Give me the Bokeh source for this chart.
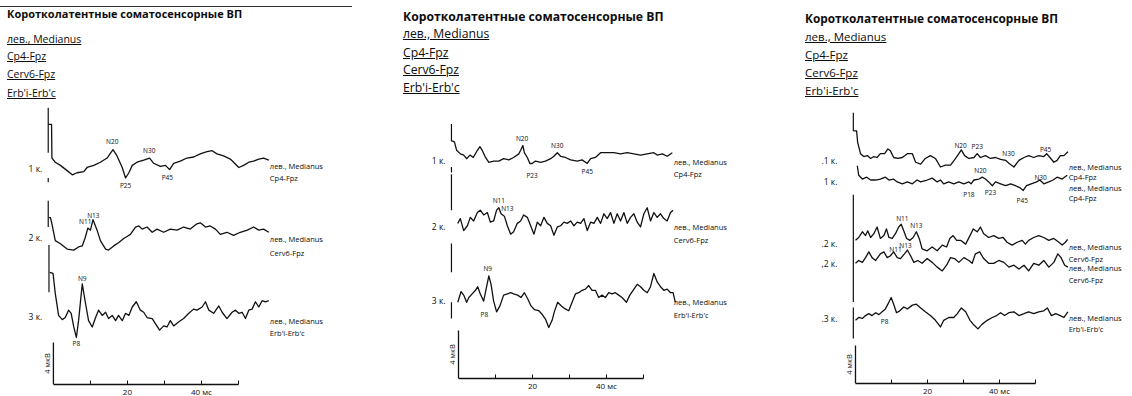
import html
import numpy as np
from bokeh.plotting import figure
from bokeh.models import Range1d, LinearAxis, FixedTicker, Div, CustomJSTickFormatter
from bokeh.layouts import row, column
from bokeh.embed import file_html
from bokeh.resources import INLINE
from bokeh.core.properties import value

# ---------------- texts ----------------
TITLE = "Коротколатентные соматосенсорные ВП"
SUBTITLES = ["лев., Medianus", "Cp4-Fpz", "Cerv6-Fpz", "Erb'i-Erb'c"]
SIDE = "лев., Medianus"
LEAD_CP4 = "Cp4-Fpz"
LEAD_CERV = "Cerv6-Fpz"
LEAD_ERB = "Erb'i-Erb'c"
SCALE_UV = 4
SCALE_LABEL = "4 мкВ"
X_BAR_MS = (0, 50)
X_LABEL_TICKS = [20, 40]
X_MINOR_TICKS = [10, 30, 50]

# ---------------- data: time (ms) / amplitude (µV, upward) ----------------
# Panel 1
P1_T1_T = [-1.4, -0.5, -0.4, 0.5, 1.9, 3.7, 5.1, 6.4, 8.2, 9.1, 10.9, 12.7, 14.5, 16.1, 17.2, 18.6, 19.5, 20.4, 21.3, 22.6, 24.4, 26.0, 27.1, 28.9, 30.3, 31.4, 32.5, 34.3, 36.1, 37.9, 39.7, 41.5, 42.9, 44.2, 46.0, 47.8, 48.7, 50.1, 51.4, 52.8, 54.1, 55.5, 56.8, 58.2]
P1_T1_V = [4.2, 4.2, 1.0, 0.6, 0.3, -0.2, -0.6, -0.4, -0.3, 0.1, 0.3, 0.6, 1.0, 1.8, 1.2, 0.1, -0.9, -0.4, 0.3, 0.6, 0.8, 1.0, 0.5, 0.2, 0.3, -0.1, 0.5, 0.7, 1.0, 1.1, 1.4, 1.6, 1.7, 1.4, 1.2, 0.9, 0.6, 0.1, 0.3, 0.6, 0.7, 0.9, 1.0, 0.8]
P1_T1_PEAKS = ["N20", "P25", "N30", "P45"]
P1_T1_PEAK_T = [15.9, 19.5, 25.9, 30.8]
P1_T1_PEAK_V = [2.6, -1.6, 1.7, -0.9]

P1_T2_T = [-1.3, -0.8, -0.4, 0.5, 1.9, 3.7, 5.5, 6.8, 7.8, 8.6, 9.3, 10.0, 10.7, 11.8, 12.7, 14.1, 14.9, 16.3, 17.6, 19.0, 19.9, 20.8, 22.2, 23.1, 24.0, 25.3, 26.7, 28.0, 29.8, 31.6, 33.4, 35.2, 37.0, 38.8, 39.7, 41.1, 42.4, 43.8, 45.1, 46.9, 48.7, 50.5, 52.4, 54.1, 55.5, 56.8, 58.2]
P1_T2_V = [2.0, 2.0, 1.4, -0.2, -0.5, -1.0, -1.1, -0.8, -0.7, 0.1, 1.0, 0.8, 1.8, 0.8, -0.2, -1.0, -1.1, -0.7, -0.4, 0.0, 0.2, 0.4, 1.1, 1.2, 0.9, 1.1, 0.6, 0.9, 0.6, 0.9, 0.8, 1.1, 0.9, 1.4, 1.5, 1.1, 1.2, 0.9, 0.4, 0.6, 0.3, 0.6, 0.8, 1.1, 0.8, 0.9, 0.6]
P1_T2_PEAKS = ["N11", "N13"]
P1_T2_PEAK_T = [8.6, 10.8]
P1_T2_PEAK_V = [1.6, 2.2]

P1_T3_T = [-1.0, -0.1, 0.5, 1.4, 2.4, 3.2, 4.1, 4.8, 5.5, 6.2, 6.8, 7.8, 8.6, 9.5, 10.5, 11.4, 12.2, 13.2, 14.1, 14.9, 15.9, 16.8, 17.6, 18.6, 19.5, 20.4, 21.3, 22.4, 23.5, 24.4, 25.3, 26.7, 27.6, 28.7, 29.8, 30.7, 31.6, 32.5, 33.9, 35.2, 36.6, 37.9, 38.8, 40.2, 41.1, 42.0, 43.3, 44.7, 45.6, 46.9, 48.3, 49.2, 50.1, 51.0, 51.9, 52.8, 53.7, 54.6, 55.5, 56.4, 57.3, 58.2]
P1_T3_V = [4.2, 4.1, 2.2, 0.1, -0.3, -0.1, 0.6, 0.3, -1.0, -2.0, -0.4, 3.1, 1.4, -0.4, -1.0, -0.1, 0.6, 0.1, 0.4, -0.2, 0.1, -0.4, 0.1, -0.4, 0.3, 0.1, 0.9, 1.4, 0.6, 0.4, -0.1, -0.2, -0.7, -1.3, -0.9, -1.0, -0.4, -0.9, -0.5, -0.2, 0.3, 0.7, 0.6, 0.9, 1.4, 0.6, 0.3, 1.0, 0.4, -0.2, 0.4, 0.6, 0.3, 0.4, -0.2, 0.6, 0.7, 1.4, 0.9, 1.5, 1.4, 1.5]
P1_T3_PEAKS = ["N9", "P8"]
P1_T3_PEAK_T = [7.8, 6.2]
P1_T3_PEAK_V = [3.6, -2.6]

# Panel 2
P2_T1_T = [-2.0, -1.1, -0.5, 0.5, 1.4, 2.2, 3.1, 4.0, 5.1, 5.8, 6.4, 7.3, 8.2, 9.5, 10.9, 12.2, 13.6, 14.9, 16.3, 16.8, 17.4, 17.8, 18.6, 19.3, 19.9, 20.8, 22.2, 23.5, 24.9, 25.8, 26.7, 27.6, 28.9, 30.3, 32.1, 33.4, 34.8, 35.7, 37.0, 38.4, 40.2, 42.0, 43.8, 45.6, 47.4, 49.2, 51.0, 52.8, 53.7, 55.1, 56.4, 57.8]
P2_T1_V = [1.4, 1.3, 0.6, 0.3, 0.2, -0.1, 0.2, 0.0, 0.6, 0.9, 0.6, 0.0, -0.4, -0.3, -0.3, -0.1, -0.2, 0.0, 0.3, 0.6, 1.0, 0.4, 0.0, -0.5, -0.5, -0.3, -0.4, -0.3, -0.1, 0.1, 0.4, 0.1, 0.0, -0.2, -0.3, -0.2, -0.5, -0.1, 0.0, 0.4, 0.4, 0.4, 0.3, 0.4, 0.3, 0.2, 0.3, 0.4, 0.2, 0.3, 0.1, 0.4]
P2_T1_PEAKS = ["N20", "P23", "N30", "P45"]
P2_T1_PEAK_T = [17.2, 19.9, 26.7, 34.8]
P2_T1_PEAK_V = [1.6, -1.5, 1.0, -1.2]

P2_T2_T = [-0.2, 0.5, 1.4, 2.4, 3.2, 4.1, 5.1, 5.9, 6.8, 7.8, 8.6, 9.5, 10.3, 10.9, 11.5, 12.4, 13.2, 14.1, 14.9, 15.9, 16.8, 17.6, 18.6, 19.5, 20.4, 21.3, 22.2, 23.1, 24.0, 24.9, 25.8, 26.7, 27.6, 28.5, 29.4, 30.3, 31.2, 32.1, 33.0, 33.9, 34.8, 35.7, 36.6, 37.5, 38.4, 39.3, 40.2, 41.1, 42.0, 42.9, 43.8, 44.7, 45.6, 46.5, 47.4, 48.3, 49.2, 50.1, 51.0, 51.9, 52.8, 53.7, 54.6, 55.5, 56.4, 57.3, 58.0]
P2_T2_V = [0.1, 0.5, -0.5, -0.1, 0.6, 0.3, 1.0, 1.2, 0.8, 1.0, 0.2, 0.3, 1.2, 1.4, 0.9, 0.7, -0.1, -0.8, -0.6, 0.1, 0.3, 0.8, 0.6, -0.1, -0.8, 0.2, -0.1, 0.6, 0.1, -0.1, -0.9, -0.2, -0.1, 0.2, 0.1, 0.3, -0.1, 0.2, 0.1, 0.5, -0.5, 0.2, 0.1, 0.6, 0.1, 0.9, 0.5, 1.0, 0.1, 0.9, 0.3, 1.0, 0.1, 0.6, 0.9, 0.2, -0.2, 0.9, 1.4, 0.3, 1.0, 0.6, 0.9, 0.5, 0.3, 1.0, 1.2]
P2_T2_PEAKS = ["N11", "N13"]
P2_T2_PEAK_T = [10.9, 13.2]
P2_T2_PEAK_V = [2.0, 1.3]

P2_T3_T = [-0.2, 0.7, 1.4, 2.2, 2.8, 3.7, 4.6, 5.2, 5.9, 6.8, 7.6, 8.2, 8.8, 9.5, 10.3, 11.2, 12.2, 13.2, 14.1, 14.9, 16.0, 16.9, 17.8, 18.7, 19.6, 20.5, 21.7, 22.6, 23.5, 24.4, 25.3, 25.9, 26.8, 27.8, 28.6, 29.8, 30.7, 31.6, 32.5, 33.4, 34.3, 35.2, 36.1, 37.0, 37.9, 38.8, 39.7, 40.6, 41.5, 42.4, 43.3, 44.2, 45.4, 46.3, 47.2, 48.3, 49.2, 50.1, 51.0, 51.9, 52.8, 53.7, 54.6, 55.5, 56.4, 57.3, 58.0, 58.6]
P2_T3_V = [-0.4, 0.5, 0.2, -0.4, 0.0, 0.3, 0.6, 0.9, 0.3, -0.3, 0.9, 1.8, 1.1, -0.3, -1.2, -0.7, 0.2, 0.3, 0.4, 0.3, 0.2, 0.0, 0.4, -0.1, -0.7, -1.0, -1.1, -1.4, -1.8, -2.5, -1.9, -1.2, -0.4, -0.7, -0.9, -1.1, -0.4, 0.3, 0.4, 0.6, 0.7, 1.0, 0.6, 0.6, 0.0, 0.2, 0.0, 0.4, 0.3, 0.4, 0.2, 0.0, -0.4, 0.2, 0.6, 1.1, 0.9, 0.6, 0.4, 0.9, 2.0, 1.3, 0.9, 0.6, 0.7, 0.4, 0.4, -0.4]
P2_T3_PEAKS = ["N9", "P8"]
P2_T3_PEAK_T = [7.9, 7.0]
P2_T3_PEAK_V = [2.4, -1.4]

# Panel 3
P3_A_T = [-0.6, 0.3, 0.6, 1.4, 2.3, 3.3, 4.2, 5.1, 6.0, 6.9, 8.1, 9.0, 9.7, 10.6, 11.8, 13.0, 14.4, 15.8, 16.7, 18.1, 19.4, 20.8, 22.2, 23.6, 25.0, 26.4, 27.8, 28.7, 29.4, 30.3, 31.5, 32.9, 33.8, 34.7, 36.1, 37.5, 38.9, 40.3, 41.7, 42.6, 44.0, 45.4, 46.8, 48.1, 49.5, 50.9, 52.3, 53.1, 54.0, 55.1, 56.0, 56.9, 57.9, 59.0]
P3_A_V = [2.8, 2.8, 1.6, 0.4, 0.1, 0.2, -0.1, 0.1, 0.0, 0.4, 0.4, 0.9, 0.7, 0.0, -0.1, 0.0, 0.4, 0.4, -0.5, -0.7, -0.1, 0.2, -0.1, -1.0, -0.8, -0.8, -0.1, 0.4, 0.8, 0.2, -0.1, 0.0, 0.4, 0.0, 0.2, -0.1, 0.0, -0.2, -0.3, -0.6, -1.0, -0.3, 0.0, 0.2, 0.0, 0.2, 0.1, 0.4, 0.0, -0.5, -0.3, 0.2, 0.2, 0.6]
P3_A_PEAKS = ["N20", "P23", "N30", "P45"]
P3_A_PEAK_T = [29.2, 33.8, 42.5, 52.8]
P3_A_PEAK_V = [1.3, 1.2, 0.4, 0.8]

P3_B_T = [0.5, 0.9, 1.9, 3.1, 4.2, 5.6, 6.9, 8.3, 9.3, 10.5, 11.6, 13.0, 14.4, 15.8, 17.1, 18.1, 19.9, 21.3, 22.7, 23.6, 24.5, 25.9, 27.3, 28.7, 30.1, 31.5, 32.1, 32.9, 34.3, 35.2, 36.1, 37.0, 38.0, 38.9, 40.3, 41.7, 43.1, 44.4, 45.6, 46.6, 47.5, 48.8, 50.3, 51.2, 52.3, 53.7, 54.9, 56.0, 57.4, 58.8]
P3_B_V = [2.6, 1.6, 1.2, 1.4, 1.1, 1.1, 1.2, 1.4, 1.1, 1.2, 0.9, 0.7, 0.9, 0.7, 1.1, 0.9, 1.1, 1.3, 0.9, 1.1, 0.7, 0.9, 0.7, 0.9, 0.7, 0.9, 0.7, 1.1, 1.2, 1.4, 1.2, 0.9, 0.5, 0.9, 0.7, 0.5, 0.7, 0.5, 0.3, 0.0, 0.5, 0.7, 0.9, 1.1, 0.7, 0.9, 1.1, 1.4, 1.2, 1.6]
P3_B_PEAKS = ["P18", "N20", "P23", "P45", "N30"]
P3_B_PEAK_T = [31.5, 34.7, 37.5, 46.3, 51.4]
P3_B_PEAK_V = [-0.4, 2.1, -0.25, -1.1, 1.4]

P3_C_T = [0.0, 0.9, 1.9, 2.8, 3.4, 4.2, 5.1, 6.0, 6.9, 7.9, 8.6, 9.3, 10.2, 11.1, 12.0, 12.7, 13.4, 14.2, 15.1, 16.0, 16.9, 17.7, 18.5, 19.9, 21.3, 22.7, 24.1, 25.3, 26.2, 27.1, 28.1, 29.2, 30.6, 31.8, 32.7, 33.8, 34.7, 35.6, 37.0, 38.4, 39.8, 41.0, 42.1, 43.5, 44.9, 46.3, 47.2, 48.1, 49.5, 50.9, 52.3, 53.7, 55.1, 56.5, 57.4, 58.3, 58.9]
P3_C_V = [-0.3, 0.0, 0.6, 0.2, 0.7, 0.0, 0.4, 1.1, -0.1, 0.2, 0.9, 0.0, -0.1, 0.4, 1.1, 1.4, 0.7, -0.1, -0.3, 0.0, 0.6, -0.1, -1.2, -1.4, -1.0, -1.4, -0.8, -1.0, -0.1, 0.2, -0.3, -0.3, -0.7, 0.2, 0.9, 0.6, 1.1, 0.4, 0.0, 0.2, -0.1, 0.0, -0.5, -0.8, -0.5, -0.3, -0.7, -0.3, 0.0, 0.2, 0.0, -0.3, -0.1, -0.5, -0.8, -0.5, -0.2]
P3_C_PEAKS = ["N11", "N13"]
P3_C_PEAK_T = [13.0, 16.9]
P3_C_PEAK_V = [2.0, 1.3]

P3_D_T = [0.0, 0.9, 1.9, 2.8, 3.7, 4.6, 5.6, 6.9, 7.9, 8.8, 9.7, 10.6, 11.6, 12.5, 13.6, 14.4, 15.3, 16.2, 17.3, 18.5, 19.9, 21.3, 22.7, 24.1, 25.3, 26.4, 27.5, 28.7, 30.1, 31.5, 32.4, 33.3, 34.5, 35.6, 37.0, 38.4, 39.8, 41.2, 42.6, 44.0, 45.4, 46.8, 48.1, 49.5, 50.9, 52.3, 53.7, 55.1, 56.2, 57.1, 58.1, 59.0]
P3_D_V = [-0.3, 0.0, -0.2, 0.3, 0.9, 0.3, 0.0, 0.7, 0.9, 0.3, 0.5, 0.9, 0.3, 0.2, 0.7, 1.1, 0.5, -0.2, 0.0, -0.3, 0.2, -0.2, -0.7, -1.1, -0.5, 0.3, 0.2, -0.2, 0.3, 0.0, -0.3, 0.7, 0.9, 0.2, -0.3, -0.3, 0.0, -0.2, -0.7, -0.5, -0.9, -0.5, -1.1, -0.3, -0.5, 0.0, -0.7, -0.2, 0.7, 0.3, -0.5, -0.7]
P3_D_PEAKS = ["N11", "N13"]
P3_D_PEAK_T = [11.1, 13.9]
P3_D_PEAK_V = [1.2, 1.6]

P3_E_T = [0.0, 0.9, 1.9, 2.8, 3.7, 4.6, 5.6, 6.5, 7.4, 8.3, 9.0, 9.9, 10.6, 11.4, 12.3, 13.4, 14.4, 15.8, 16.9, 18.1, 19.4, 20.8, 22.2, 23.6, 24.5, 25.9, 27.3, 28.3, 29.4, 30.6, 31.8, 32.9, 34.0, 35.2, 36.6, 38.0, 39.2, 40.3, 41.4, 42.6, 44.0, 45.4, 46.8, 48.1, 49.5, 50.9, 52.3, 53.3, 54.4, 55.6, 56.9, 57.9, 59.0]
P3_E_V = [-0.3, 0.0, -0.1, 0.2, 0.4, 0.2, 0.5, 0.3, 0.6, 0.9, 1.4, 2.1, 1.4, 0.5, 0.7, 1.1, 0.9, 1.3, 1.4, 1.0, 0.6, 0.2, -0.3, -1.0, -0.3, 0.0, 0.0, 0.4, 1.0, 0.6, -0.3, -0.8, -1.2, -0.7, -0.3, 0.0, 0.2, 0.5, 0.2, 0.5, 0.6, 0.2, 0.4, 0.6, 0.4, 0.6, 0.7, 1.0, 0.2, 0.4, 0.2, 0.0, 0.6]
P3_E_PEAKS = ["P8"]
P3_E_PEAK_T = [8.1]
P3_E_PEAK_V = [-0.4]

# ---------------- layout / style ----------------
FONT = "Open Sans"
INK = "#111111"
TEXT_INK = "#0d0d0d"
HEADER_H = 100


def trace(t, v, peaks, pt, pv, base, tag, tag_dv, lead, side_dv, side_gap, marks):
    return dict(t=t, v=v, peaks=peaks, pt=pt, pv=pv, base=base, tag=tag, tag_dv=tag_dv,
                lead=lead, side_dv=side_dv, side_gap=side_gap, marks=marks)


PANELS = [
    dict(width=380, frame_h=284, x_range=(-14.3, 88.4), y_top=27.05, side_t=58.5, tag_t=-3.0,
         head=dict(left=7, title_top=7, title_size=11, sub_tops=[32, 49, 67, 86], sub_size=10.5, rule=352),
         traces=[
             trace(P1_T1_T, P1_T1_V, P1_T1_PEAKS, P1_T1_PEAK_T, P1_T1_PEAK_V, 20.57, "1 к.", 0.0, LEAD_CP4, 0.2, 12,
                   [(-1.4, 5.8, 1.5), (-1.4, -0.9, -1.3)]),
             trace(P1_T2_T, P1_T2_V, P1_T2_PEAKS, P1_T2_PEAK_T, P1_T2_PEAK_V, 13.9, "2 к.", 0.1, LEAD_CERV, 0.0, 14,
                   [(-1.4, 3.6, 1.1)]),
             trace(P1_T3_T, P1_T3_V, P1_T3_PEAKS, P1_T3_PEAK_T, P1_T3_PEAK_V, 6.48, "3 к.", 0.0, LEAD_ERB, -0.4, 12,
                   [(-1.2, 6.8, 2.3)]),
         ]),
    dict(width=400, frame_h=278, x_range=(-21.08, 87.03), y_top=23.17, side_t=58.2, tag_t=-3.5,
         head=dict(left=23, title_top=9.7, title_size=12.2, sub_tops=[27, 45.7, 63, 80.7], sub_size=12.2, rule=None),
         traces=[
             trace(P2_T1_T, P2_T1_V, P2_T1_PEAKS, P2_T1_PEAK_T, P2_T1_PEAK_V, 18.42, "1 к.", -0.25, LEAD_CP4, -0.4, 12,
                   [(-1.9, 2.8, 1.4), (-1.9, -0.8, -1.25)]),
             trace(P2_T2_T, P2_T2_V, P2_T2_PEAKS, P2_T2_PEAK_T, P2_T2_PEAK_V, 12.83, "2 к.", -0.2, LEAD_CERV, -0.2, 13,
                   [(-1.9, 4.2, 1.2)]),
             trace(P2_T3_T, P2_T3_V, P2_T3_PEAKS, P2_T3_PEAK_T, P2_T3_PEAK_V, 6.75, "3 к.", -0.25, LEAD_ERB, -0.4, 13,
                   [(-1.9, 4.5, 2.1), (-1.9, -0.4, -1.75)]),
         ]),
    dict(width=352, frame_h=283, x_range=(-20.83, 76.94), y_top=29.79, side_t=59.2, tag_t=-5.0,
         head=dict(left=25, title_top=11.3, title_size=11.85, sub_tops=[29.7, 48, 65.7, 83.7], sub_size=11.5, rule=None),
         traces=[
             trace(P3_A_T, P3_A_V, P3_A_PEAKS, P3_A_PEAK_T, P3_A_PEAK_V, 23.79, ".1 к.", -0.3, LEAD_CP4, -0.95, 10,
                   [(-0.6, 4.7, 2.8)]),
             trace(P3_B_T, P3_B_V, P3_B_PEAKS, P3_B_PEAK_T, P3_B_PEAK_V, 20.32, "1 к.", 0.95, LEAD_CP4, 0.3, 10, []),
             trace(P3_C_T, P3_C_V, P3_C_PEAKS, P3_C_PEAK_T, P3_C_PEAK_V, 15.37, ".2 к.", -0.6, LEAD_CERV, -0.95, 12,
                   [(-0.6, 4.5, -6.8)]),
             trace(P3_D_T, P3_D_V, P3_D_PEAKS, P3_D_PEAK_T, P3_D_PEAK_V, 12.95, ",2 к.", -0.35, LEAD_CERV, -0.75, 12, []),
             trace(P3_E_T, P3_E_V, P3_E_PEAKS, P3_E_PEAK_T, P3_E_PEAK_V, 6.95, ".3 к.", -0.1, LEAD_ERB, -0.1, 11,
                   [(-0.6, 1.05, -2.2)]),
         ]),
]


def make_header(width, h):
    font = "'Open Sans', sans-serif"
    items = []
    if h["rule"]:
        items.append(f'<div style="position:absolute;left:0;top:6px;width:{h["rule"]}px;height:0;'
                     f'border-top:1px solid #333"></div>')
    items.append(f'<div style="position:absolute;left:{h["left"]}px;top:{h["title_top"]}px;'
                 f'font-size:{h["title_size"]}px;line-height:14px;font-weight:700;white-space:nowrap">'
                 f'{html.escape(TITLE)}</div>')
    for s, top in zip(SUBTITLES, h["sub_tops"]):
        items.append(f'<div style="position:absolute;left:{h["left"]}px;top:{top}px;'
                     f'font-size:{h["sub_size"]}px;line-height:14px;text-decoration:underline;'
                     f'white-space:nowrap">{html.escape(s)}</div>')
    body = (f'<div style="position:relative;width:{width}px;height:{HEADER_H}px;'
            f'font-family:{font};color:{TEXT_INK}">' + "".join(items) + '</div>')
    return Div(text=body, width=width, height=HEADER_H, margin=0)


def make_figure(cfg):
    k = cfg["frame_h"] / cfg["y_top"]
    p = figure(frame_width=cfg["width"], frame_height=cfg["frame_h"],
               x_range=Range1d(*cfg["x_range"]), y_range=Range1d(0, cfg["y_top"]),
               output_backend="svg", toolbar_location=None,
               x_axis_location=None, y_axis_location=None,
               min_border_left=0, min_border_right=0, min_border_top=0, min_border_bottom=0,
               background_fill_color="white", border_fill_color="white", outline_line_color=None)
    p.xgrid.visible = False
    p.ygrid.visible = False

    axis = LinearAxis(bounds=X_BAR_MS,
                      ticker=FixedTicker(ticks=X_LABEL_TICKS, minor_ticks=X_MINOR_TICKS),
                      formatter=CustomJSTickFormatter(code="return tick == 40 ? '40 мс' : tick.toFixed(0);"),
                      axis_line_color=INK, axis_line_width=1.3,
                      major_tick_in=4, major_tick_out=0, minor_tick_in=4, minor_tick_out=0,
                      major_tick_line_color=INK, minor_tick_line_color=INK,
                      major_label_text_font=FONT, major_label_text_font_size="8px",
                      major_label_text_color=TEXT_INK, major_label_standoff=1)
    p.add_layout(axis, "below")

    # amplitude scale bar
    p.segment(x0=[0], y0=[0], x1=[0], y1=[SCALE_UV], line_color=INK, line_width=1.3)
    p.text(x=[0], y=[SCALE_UV / 2], text=[SCALE_LABEL], angle=np.pi / 2, x_offset=-1,
           text_align="center", text_baseline="bottom", text_font=value(FONT),
           text_font_size="7.5px", text_color=TEXT_INK)

    for tr in cfg["traces"]:
        b = tr["base"]
        p.line(tr["t"], np.asarray(tr["v"]) + b, line_color=INK, line_width=1.3, line_join="round")
        if tr["marks"]:
            mt = [m[0] for m in tr["marks"]]
            p.segment(x0=mt, y0=[b + m[1] for m in tr["marks"]], x1=mt, y1=[b + m[2] for m in tr["marks"]],
                      line_color=INK, line_width=1.2)
        p.text(x=tr["pt"], y=[b + v for v in tr["pv"]], text=tr["peaks"], text_align="center",
               text_baseline="middle", text_font=value(FONT), text_font_size="6.5px", text_color=TEXT_INK)
        p.text(x=[cfg["tag_t"]], y=[b + tr["tag_dv"]], text=[tr["tag"]], text_align="right",
               text_baseline="middle", text_font=value(FONT), text_font_size="8.5px", text_color=TEXT_INK)
        y1 = b + tr["side_dv"]
        p.text(x=[cfg["side_t"], cfg["side_t"]], y=[y1, y1 - tr["side_gap"] / k], text=[SIDE, tr["lead"]],
               text_align="left", text_baseline="middle", text_font=value(FONT),
               text_font_size="7.5px", text_color=TEXT_INK)
    return p


cols = []
for cfg in PANELS:
    cols.append(column(make_header(cfg["width"], cfg["head"]), make_figure(cfg), spacing=0))

layout = row(*cols, spacing=0)
open("out.html", "w").write(file_html(layout, INLINE))
